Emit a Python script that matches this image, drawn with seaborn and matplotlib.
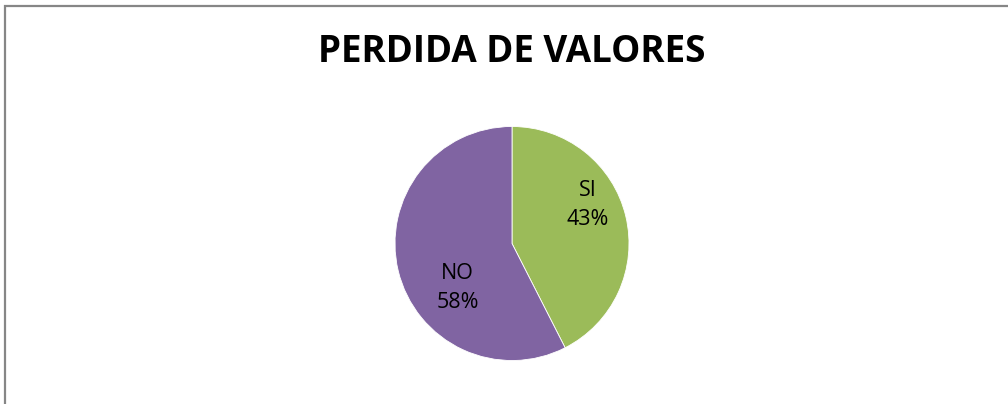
import matplotlib
matplotlib.use('Agg')
import matplotlib.pyplot as plt
import seaborn as sns
from matplotlib.patches import Rectangle

categorias = ['SI', 'NO']
valores = [17, 23]
etiquetas_pct = ['43%', '58%']
colores = ['#9BBB59', '#8064A2']

sns.set_theme(style='white')
plt.rcParams['font.family'] = ['Open Sans', 'DejaVu Sans']

fig = plt.figure(figsize=(10.08, 4.04), dpi=100)
fig.patch.set_facecolor('white')

# marco del grafico (solo se ven el borde izquierdo y superior)
fig.patches.append(Rectangle((4.5 / 1008, -0.05), 1.1, 1 - 5.5 / 404 + 0.05,
                             transform=fig.transFigure, fill=False,
                             edgecolor='#868686', linewidth=1.6))

ax = fig.add_axes([395 / 1008, 43.5 / 404, 234 / 1008, 234 / 404])
ax.pie(valores, colors=sns.color_palette(colores), startangle=90,
       counterclock=False, radius=1,
       wedgeprops={'edgecolor': 'white', 'linewidth': 0.6})
ax.set_xlim(-1, 1)
ax.set_ylim(-1, 1)
ax.set_aspect('equal')
ax.axis('off')

# posiciones de las etiquetas dentro de cada sector
pos = [(0.65, 0.325), (-0.465, -0.38)]
for (x, y), cat, pct in zip(pos, categorias, etiquetas_pct):
    ax.text(x, y, f'{cat}\n{pct}', ha='center', va='center', fontsize=15.5,
            color='black', linespacing=1.5)

fig.text(512 / 1008, 1 - 52 / 404, 'PERDIDA DE VALORES', ha='center', va='center',
         fontsize=26.5, fontweight='bold', color='black')

fig.savefig('out.png', dpi=100)
